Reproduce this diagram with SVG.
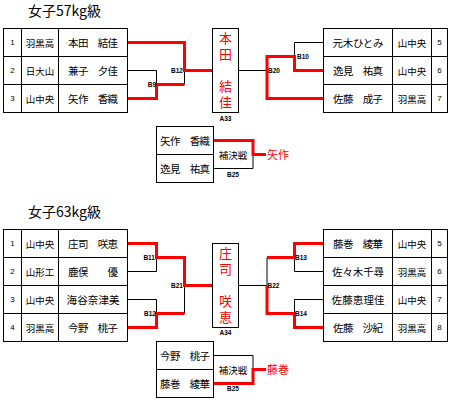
<svg xmlns="http://www.w3.org/2000/svg" width="450" height="407" viewBox="0 0 450 407">
<style>
.bg{fill:#fff}
.cell{fill:#fff;stroke:#000;stroke-width:1}
.ln{fill:none;stroke:#000;stroke-width:1}
.win{fill:none;stroke:#f00;stroke-width:3}
.t{font-family:"Noto Sans CJK JP","Liberation Sans",sans-serif;fill:#000;dominant-baseline:central}
.title{font-size:14px}
.nm{font-size:10.5px;text-anchor:middle}
.sc{font-size:9.5px;text-anchor:middle}
.no{font-family:"Liberation Sans",sans-serif;font-size:8px;text-anchor:middle;fill:#000;dominant-baseline:central}
.ch{font-family:"Noto Sans CJK JP",sans-serif;font-size:13px;fill:#f00;writing-mode:vertical-rl;letter-spacing:3px;dominant-baseline:central}
.lb{font-family:"Liberation Sans",sans-serif;font-size:6.5px;font-weight:bold;fill:#000;dominant-baseline:central}
.rw{font-size:11px;fill:#f00}
</style>
<rect class="bg" x="0" y="0" width="450" height="407"/>

<text class="t title" x="28" y="10">女子57kg級</text>
<text class="t title" x="28" y="211">女子63kg級</text>

<g id="connectors">
<path class="ln" d="M127.5,70.5 H156.5 V84.5"/>
<path class="ln" d="M184.5,70.5 V84.5"/>
<path class="win" d="M127.5,42.5 H184.5 V70.5 H212.5"/>
<path class="win" d="M127.5,98.5 H156.5 V84.5 H184.5"/>
<path class="ln" d="M238.5,70.5 H267"/>
<path class="ln" d="M323.5,42.5 H294.5 V56.5"/>
<path class="win" d="M323.5,70.5 H294.5 V56.5 H267 V98.5 H323.5"/>
<path class="ln" d="M213.5,168.5 H253 V154.5"/>
<path class="win" d="M213.5,140.5 H253 V154.5 H266"/>
<path class="ln" d="M127.5,271.5 H156.5 V257.5"/>
<path class="ln" d="M127.5,299.5 H156.5 V313.5"/>
<path class="ln" d="M184.5,285.5 V313.5"/>
<path class="win" d="M127.5,243.5 H156.5 V257.5 H184.5 V285.5 H212.5"/>
<path class="win" d="M127.5,327.5 H156.5 V313.5 H184.5"/>
<path class="ln" d="M238.5,285.5 H267 V257.5"/>
<path class="ln" d="M294.5,257.5 V271.5 H323.5"/>
<path class="ln" d="M323.5,299.5 H294.5 V313.5"/>
<path class="win" d="M323.5,243.5 H294.5 V257.5 H267"/>
<path class="win" d="M323.5,327.5 H294.5 V313.5 H267 V285.5"/>
<path class="ln" d="M213.5,355.5 H253 V369.5"/>
<path class="win" d="M213.5,383.5 H253 V369.5 H266"/>
<text class="lb" x="183" y="70.5" text-anchor="end">B12</text>
<text class="lb" x="156" y="84" text-anchor="end">B9</text>
<text class="lb" x="297" y="56" text-anchor="start">B10</text>
<text class="lb" x="268" y="70.5" text-anchor="start">B20</text>
<text class="lb" x="225.5" y="118" text-anchor="middle">A33</text>
<text class="lb" x="233" y="174" text-anchor="middle">B25</text>
<text class="lb" x="155" y="257" text-anchor="end">B11</text>
<text class="lb" x="183" y="285.5" text-anchor="end">B21</text>
<text class="lb" x="156" y="313" text-anchor="end">B12</text>
<text class="lb" x="295" y="257" text-anchor="start">B13</text>
<text class="lb" x="267.5" y="285.5" text-anchor="start">B22</text>
<text class="lb" x="295" y="313" text-anchor="start">B14</text>
<text class="lb" x="225.5" y="332.5" text-anchor="middle">A34</text>
<text class="lb" x="233" y="388.5" text-anchor="middle">B25</text>
</g>

<g id="w57-p1">
<rect class="cell" x="3.5" y="28.5" width="18" height="28"/><rect class="cell" x="21.5" y="28.5" width="37" height="28"/><rect class="cell" x="58.5" y="28.5" width="69" height="28"/>
<text class="no" x="12.5" y="42.5">1</text><text class="t sc" x="40" y="42.5">羽黒高</text><text class="t nm" x="93" y="42.5" textLength="50">本田　結佳</text>
</g>
<g id="w57-p2">
<rect class="cell" x="3.5" y="56.5" width="18" height="28"/><rect class="cell" x="21.5" y="56.5" width="37" height="28"/><rect class="cell" x="58.5" y="56.5" width="69" height="28"/>
<text class="no" x="12.5" y="70.5">2</text><text class="t sc" x="40" y="70.5">日大山</text><text class="t nm" x="93" y="70.5" textLength="50">兼子　夕佳</text>
</g>
<g id="w57-p3">
<rect class="cell" x="3.5" y="84.5" width="18" height="28"/><rect class="cell" x="21.5" y="84.5" width="37" height="28"/><rect class="cell" x="58.5" y="84.5" width="69" height="28"/>
<text class="no" x="12.5" y="98.5">3</text><text class="t sc" x="40" y="98.5">山中央</text><text class="t nm" x="93" y="98.5" textLength="50">矢作　香織</text>
</g>

<g id="w57-champion">
<rect class="cell" x="212.5" y="28.5" width="26" height="84"/>
<text class="ch" x="225.5" y="32">本田　結佳</text>
</g>

<g id="w57-p5">
<rect class="cell" x="323.5" y="28.5" width="69" height="28"/><rect class="cell" x="392.5" y="28.5" width="39" height="28"/><rect class="cell" x="431.5" y="28.5" width="16" height="28"/>
<text class="t nm" x="358" y="42.5" textLength="51">元木ひとみ</text><text class="t sc" x="412" y="42.5">山中央</text><text class="no" x="439.5" y="42.5">5</text>
</g>
<g id="w57-p6">
<rect class="cell" x="323.5" y="56.5" width="69" height="28"/><rect class="cell" x="392.5" y="56.5" width="39" height="28"/><rect class="cell" x="431.5" y="56.5" width="16" height="28"/>
<text class="t nm" x="358" y="70.5" textLength="50">逸見　祐真</text><text class="t sc" x="412" y="70.5">山中央</text><text class="no" x="439.5" y="70.5">6</text>
</g>
<g id="w57-p7">
<rect class="cell" x="323.5" y="84.5" width="69" height="28"/><rect class="cell" x="392.5" y="84.5" width="39" height="28"/><rect class="cell" x="431.5" y="84.5" width="16" height="28"/>
<text class="t nm" x="358" y="98.5" textLength="50">佐藤　成子</text><text class="t sc" x="412" y="98.5">羽黒高</text><text class="no" x="439.5" y="98.5">7</text>
</g>

<g id="w57-rep">
<rect class="cell" x="156.5" y="126.5" width="57" height="28"/><rect class="cell" x="156.5" y="154.5" width="57" height="28"/>
<text class="t nm" x="185" y="140.5" textLength="50">矢作　香織</text><text class="t nm" x="185" y="168.5" textLength="50">逸見　祐真</text>
<text class="t sc" x="233" y="155">補決戦</text>
<text class="t rw" x="267" y="154">矢作</text>
</g>

<g id="w63-p1">
<rect class="cell" x="3.5" y="229.5" width="18" height="28"/><rect class="cell" x="21.5" y="229.5" width="37" height="28"/><rect class="cell" x="58.5" y="229.5" width="69" height="28"/>
<text class="no" x="12.5" y="243.5">1</text><text class="t sc" x="40" y="243.5">山中央</text><text class="t nm" x="93" y="243.5" textLength="50">庄司　咲恵</text>
</g>
<g id="w63-p2">
<rect class="cell" x="3.5" y="257.5" width="18" height="28"/><rect class="cell" x="21.5" y="257.5" width="37" height="28"/><rect class="cell" x="58.5" y="257.5" width="69" height="28"/>
<text class="no" x="12.5" y="271.5">2</text><text class="t sc" x="40" y="271.5">山形工</text><text class="t nm" x="93" y="271.5" textLength="50">鹿俣　　優</text>
</g>
<g id="w63-p3">
<rect class="cell" x="3.5" y="285.5" width="18" height="28"/><rect class="cell" x="21.5" y="285.5" width="37" height="28"/><rect class="cell" x="58.5" y="285.5" width="69" height="28"/>
<text class="no" x="12.5" y="299.5">3</text><text class="t sc" x="40" y="299.5">山中央</text><text class="t nm" x="93" y="299.5" textLength="53">海谷奈津美</text>
</g>
<g id="w63-p4">
<rect class="cell" x="3.5" y="313.5" width="18" height="28"/><rect class="cell" x="21.5" y="313.5" width="37" height="28"/><rect class="cell" x="58.5" y="313.5" width="69" height="28"/>
<text class="no" x="12.5" y="327.5">4</text><text class="t sc" x="40" y="327.5">羽黒高</text><text class="t nm" x="93" y="327.5" textLength="50">今野　桃子</text>
</g>

<g id="w63-champion">
<rect class="cell" x="212.5" y="243.5" width="26" height="84"/>
<text class="ch" x="225.5" y="247">庄司　咲恵</text>
</g>

<g id="w63-p5">
<rect class="cell" x="323.5" y="229.5" width="69" height="28"/><rect class="cell" x="392.5" y="229.5" width="39" height="28"/><rect class="cell" x="431.5" y="229.5" width="16" height="28"/>
<text class="t nm" x="358" y="243.5" textLength="50">藤巻　綾華</text><text class="t sc" x="412" y="243.5">山中央</text><text class="no" x="439.5" y="243.5">5</text>
</g>
<g id="w63-p6">
<rect class="cell" x="323.5" y="257.5" width="69" height="28"/><rect class="cell" x="392.5" y="257.5" width="39" height="28"/><rect class="cell" x="431.5" y="257.5" width="16" height="28"/>
<text class="t nm" x="358" y="271.5" textLength="52">佐々木千尋</text><text class="t sc" x="412" y="271.5">羽黒高</text><text class="no" x="439.5" y="271.5">6</text>
</g>
<g id="w63-p7">
<rect class="cell" x="323.5" y="285.5" width="69" height="28"/><rect class="cell" x="392.5" y="285.5" width="39" height="28"/><rect class="cell" x="431.5" y="285.5" width="16" height="28"/>
<text class="t nm" x="358" y="299.5" textLength="53">佐藤恵理佳</text><text class="t sc" x="412" y="299.5">山中央</text><text class="no" x="439.5" y="299.5">7</text>
</g>
<g id="w63-p8">
<rect class="cell" x="323.5" y="313.5" width="69" height="28"/><rect class="cell" x="392.5" y="313.5" width="39" height="28"/><rect class="cell" x="431.5" y="313.5" width="16" height="28"/>
<text class="t nm" x="358" y="327.5" textLength="50">佐藤　沙紀</text><text class="t sc" x="412" y="327.5">羽黒高</text><text class="no" x="439.5" y="327.5">8</text>
</g>

<g id="w63-rep">
<rect class="cell" x="156.5" y="341.5" width="57" height="28"/><rect class="cell" x="156.5" y="369.5" width="57" height="28"/>
<text class="t nm" x="185" y="355.5" textLength="50">今野　桃子</text><text class="t nm" x="185" y="383.5" textLength="50">藤巻　綾華</text>
<text class="t sc" x="233" y="369.5">補決戦</text>
<text class="t rw" x="267" y="368.5">藤巻</text>
</g>
</svg>
